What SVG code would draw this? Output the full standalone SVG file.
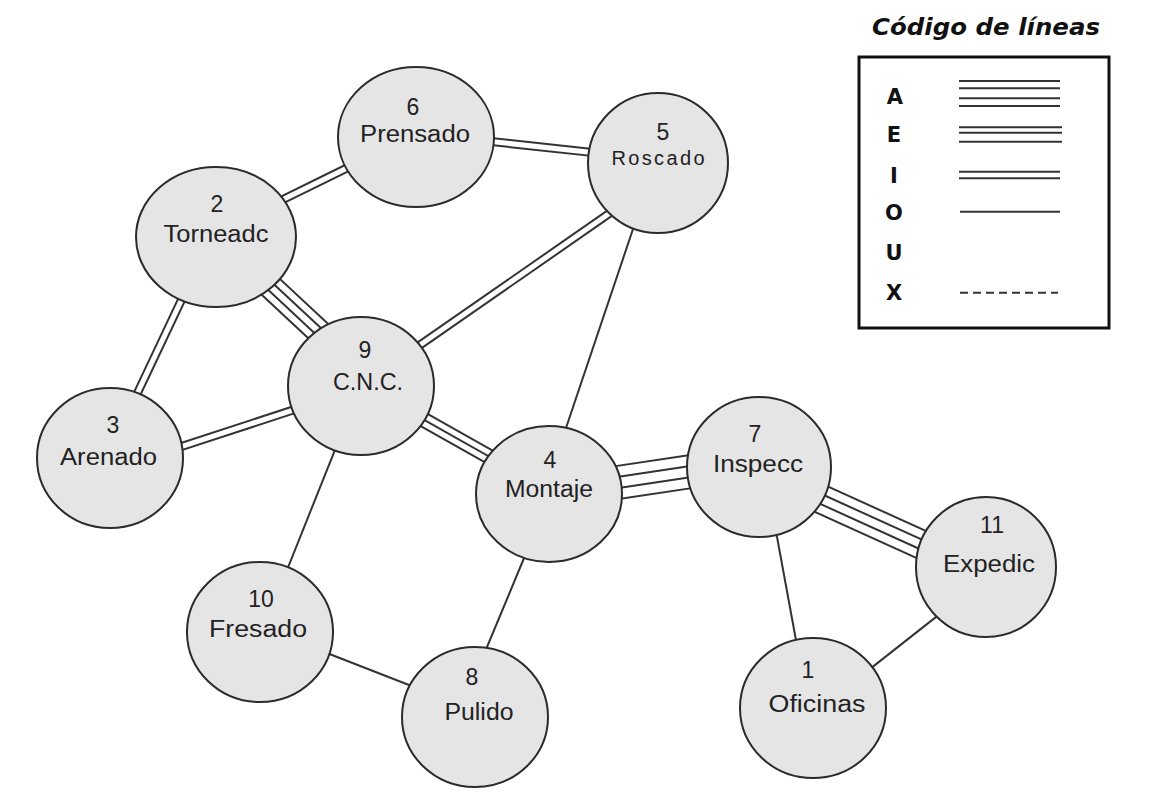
<svg xmlns="http://www.w3.org/2000/svg" width="1169" height="803" viewBox="0 0 1169 803">
  <style>
    .bg { fill: #ffffff; }
    .edge line { stroke: #333333; stroke-width: 2; fill: none; }
    .node ellipse { fill: #e5e5e5; stroke: #2b2b2b; stroke-width: 2; }
    .num, .name { font-family: "Liberation Sans", Arial, sans-serif; font-size: 23px; fill: #222222; text-anchor: middle; }
    .legend-box { fill: #ffffff; stroke: #111111; stroke-width: 3; }
    .legend-key { font-family: "DejaVu Sans", Verdana, sans-serif; font-weight: bold; font-size: 21px; fill: #111111; text-anchor: middle; }
    .legend-title { font-family: "DejaVu Sans", Verdana, sans-serif; font-weight: bold; font-style: italic; font-size: 23px; fill: #111111; }
    .legend-line { stroke: #333333; stroke-width: 2; }
  </style>

  <rect class="bg" x="0" y="0" width="1169" height="803"/>

  <!-- relationship lines: 4 = A, 3 = E, 2 = I, 1 = O -->
  <g id="connectors" class="edge">
    <!-- 2 - 6 (I) -->
    <g transform="translate(259.6 211) rotate(-26.2)">
      <line x2="118" y1="-3.5" y2="-3.5"/><line x2="118" y1="3.5" y2="3.5"/>
    </g>
    <!-- 6 - 5 (I) -->
    <g transform="translate(470.1 139.3) rotate(6.14)">
      <line x2="143.5" y1="-3.5" y2="-3.5"/><line x2="143.5" y1="3.5" y2="3.5"/>
    </g>
    <!-- 2 - 9 (A) -->
    <g transform="translate(253.7 270.9) rotate(43)">
      <line x2="111.6" y1="-12" y2="-12"/><line x2="111.6" y1="-4" y2="-4"/>
      <line x2="111.6" y1="4" y2="4"/><line x2="111.6" y1="12" y2="12"/>
    </g>
    <!-- 2 - 3 (I) -->
    <g transform="translate(190.7 280.4) rotate(115.3)">
      <line x2="150.6" y1="-3.5" y2="-3.5"/><line x2="150.6" y1="3.5" y2="3.5"/>
    </g>
    <!-- 3 - 9 (I) -->
    <g transform="translate(159.2 453.8) rotate(-18.1)">
      <line x2="165.7" y1="-3.5" y2="-3.5"/><line x2="165.7" y1="3.5" y2="3.5"/>
    </g>
    <!-- 9 - 5 (I) -->
    <g transform="translate(399.5 359.3) rotate(-34.8)">
      <line x2="277.7" y1="-3.5" y2="-3.5"/><line x2="277.7" y1="3.5" y2="3.5"/>
    </g>
    <!-- 9 - 4 (E) -->
    <g transform="translate(404.2 408.7) rotate(29.4)">
      <line x2="121.2" y1="-7" y2="-7"/><line x2="121.2" y1="0" y2="0"/><line x2="121.2" y1="7" y2="7"/>
    </g>
    <!-- 4 - 7 (A) -->
    <g transform="translate(596.3 485.7) rotate(-8.5)">
      <line x2="117.7" y1="-16.5" y2="-16.5"/><line x2="117.7" y1="-5.5" y2="-5.5"/>
      <line x2="117.7" y1="5.5" y2="5.5"/><line x2="117.7" y1="16.5" y2="16.5"/>
    </g>
    <!-- 7 - 11 (A) -->
    <g transform="translate(800.2 489.6) rotate(24.4)">
      <line x2="158.7" y1="-14.25" y2="-14.25"/><line x2="158.7" y1="-4.75" y2="-4.75"/>
      <line x2="158.7" y1="4.75" y2="4.75"/><line x2="158.7" y1="14.25" y2="14.25"/>
    </g>
    <!-- single lines (O) -->
    <line x1="559" y1="448.7" x2="640" y2="208.3"/>
    <line x1="340.4" y1="436.4" x2="281" y2="585"/>
    <line x1="529.7" y1="544.5" x2="479.3" y2="665.5"/>
    <line x1="313.4" y1="647.7" x2="427.6" y2="692.3"/>
    <line x1="773.4" y1="517.3" x2="799.6" y2="659.7"/>
    <line x1="951.7" y1="604.6" x2="859.3" y2="677.4"/>
  </g>

  <g id="node-6" class="node">
    <ellipse cx="416" cy="137" rx="78" ry="70"/>
    <text class="num" x="413" y="115">6</text>
    <text class="name" x="415" y="142" textLength="110" lengthAdjust="spacingAndGlyphs">Prensado</text>
  </g>
  <g id="node-5" class="node">
    <ellipse cx="658" cy="163" rx="70" ry="70"/>
    <text class="num" x="663" y="140">5</text>
    <text class="name" x="658" y="165" textLength="93" lengthAdjust="spacing" style="font-size:20px">Roscado</text>
  </g>
  <g id="node-2" class="node">
    <ellipse cx="216" cy="237" rx="80" ry="70"/>
    <text class="num" x="217" y="212">2</text>
    <text class="name" x="216" y="242" textLength="105" lengthAdjust="spacingAndGlyphs">Torneadc</text>
  </g>
  <g id="node-9" class="node">
    <ellipse cx="361" cy="386" rx="73" ry="69"/>
    <text class="num" x="365" y="358">9</text>
    <text class="name" x="368" y="390" textLength="70" lengthAdjust="spacingAndGlyphs">C.N.C.</text>
  </g>
  <g id="node-3" class="node">
    <ellipse cx="110" cy="458" rx="73" ry="70"/>
    <text class="num" x="113" y="433">3</text>
    <text class="name" x="108.5" y="465" textLength="97" lengthAdjust="spacingAndGlyphs">Arenado</text>
  </g>
  <g id="node-4" class="node">
    <ellipse cx="549" cy="494" rx="73" ry="68"/>
    <text class="num" x="550" y="468">4</text>
    <text class="name" x="549" y="497" textLength="88" lengthAdjust="spacingAndGlyphs">Montaje</text>
  </g>
  <g id="node-7" class="node">
    <ellipse cx="759" cy="467" rx="72" ry="70"/>
    <text class="num" x="755" y="442">7</text>
    <text class="name" x="758" y="472" textLength="90" lengthAdjust="spacingAndGlyphs">Inspecc</text>
  </g>
  <g id="node-11" class="node">
    <ellipse cx="986" cy="567" rx="70" ry="70"/>
    <text class="num" x="992" y="533">11</text>
    <text class="name" x="989" y="572" textLength="92" lengthAdjust="spacingAndGlyphs">Expedic</text>
  </g>
  <g id="node-10" class="node">
    <ellipse cx="260" cy="632" rx="73" ry="70"/>
    <text class="num" x="261" y="607">10</text>
    <text class="name" x="258" y="637" textLength="98" lengthAdjust="spacingAndGlyphs">Fresado</text>
  </g>
  <g id="node-8" class="node">
    <ellipse cx="475" cy="717" rx="73" ry="70"/>
    <text class="num" x="472" y="685">8</text>
    <text class="name" x="479" y="720" textLength="69" lengthAdjust="spacingAndGlyphs">Pulido</text>
  </g>
  <g id="node-1" class="node">
    <ellipse cx="813" cy="708" rx="73" ry="70"/>
    <text class="num" x="808" y="678">1</text>
    <text class="name" x="817" y="712" textLength="97" lengthAdjust="spacingAndGlyphs">Oficinas</text>
  </g>

  <!-- line code key -->
  <g id="legend">
    <text class="legend-title" x="872" y="35" textLength="228" lengthAdjust="spacingAndGlyphs">Código de líneas</text>
    <rect class="legend-box" x="859" y="57" width="250" height="271"/>
    <text class="legend-key" x="895" y="104">A</text>
    <text class="legend-key" x="894" y="142">E</text>
    <text class="legend-key" x="894" y="183">I</text>
    <text class="legend-key" x="894" y="220">O</text>
    <text class="legend-key" x="894" y="260">U</text>
    <text class="legend-key" x="894" y="300">X</text>
    <line class="legend-line" x1="959" y1="81" x2="1060" y2="81"/>
    <line class="legend-line" x1="959" y1="88.3" x2="1060" y2="88.3"/>
    <line class="legend-line" x1="959" y1="98.3" x2="1060" y2="98.3"/>
    <line class="legend-line" x1="959" y1="106" x2="1060" y2="106"/>
    <line class="legend-line" x1="959" y1="127.3" x2="1062" y2="127.3"/>
    <line class="legend-line" x1="959" y1="132.7" x2="1062" y2="132.7"/>
    <line class="legend-line" x1="959" y1="141.7" x2="1062" y2="141.7"/>
    <line class="legend-line" x1="959" y1="171.7" x2="1060" y2="171.7"/>
    <line class="legend-line" x1="959" y1="178.3" x2="1060" y2="178.3"/>
    <line class="legend-line" x1="960" y1="211.7" x2="1060" y2="211.7"/>
    <line class="legend-line" x1="960" y1="292.7" x2="1058" y2="292.7" stroke-dasharray="8 5"/>
  </g>
</svg>
